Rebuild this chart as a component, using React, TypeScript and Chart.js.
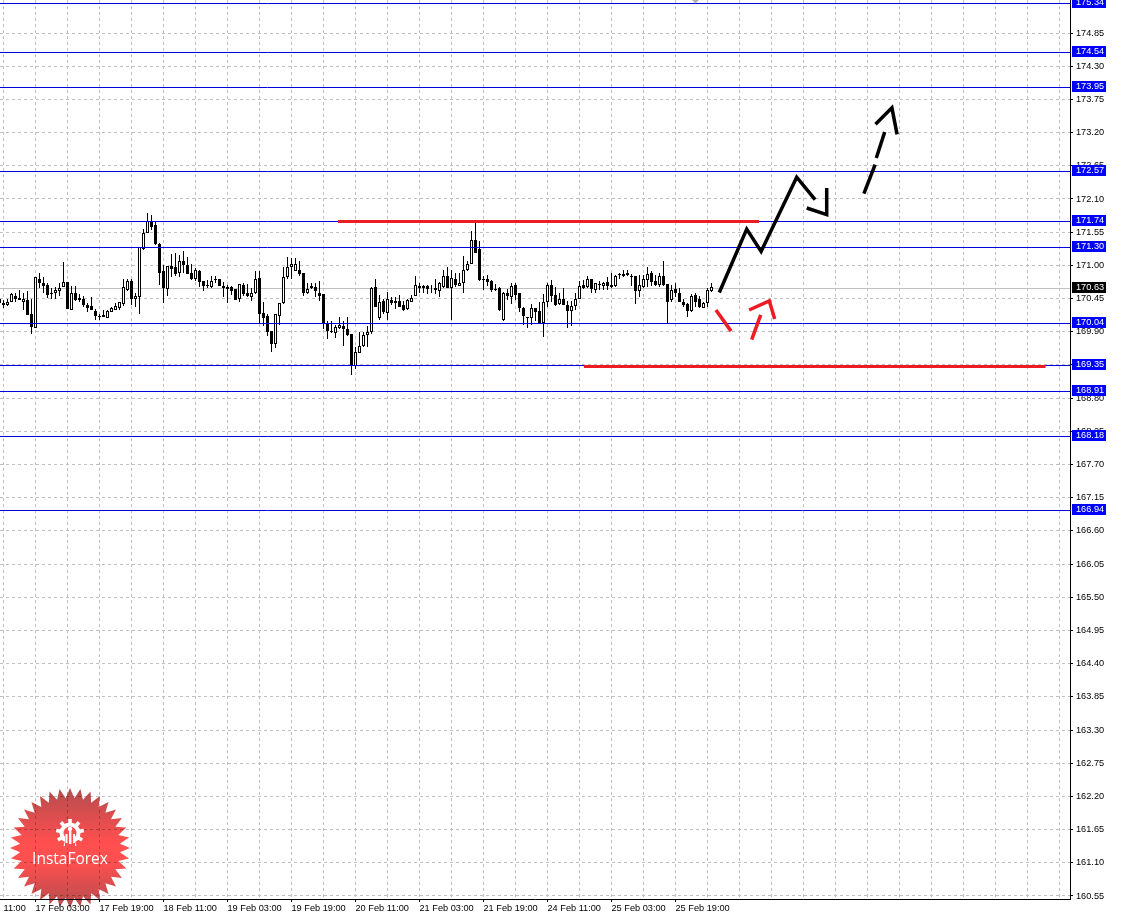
import React, { useEffect, useRef } from "react";
import { Chart, registerables } from "chart.js";

Chart.register(...registerables);

// Hourly candles, oldest first
const opens = [
170.44,170.38,170.35,170.40,170.50,170.46,170.40,170.43,170.19,169.97,
170.78,170.71,170.67,170.54,170.55,170.58,170.64,170.72,170.26,170.54,
170.46,170.44,170.34,170.32,170.25,170.16,170.17,170.13,170.23,170.26,
170.29,170.36,170.59,170.74,170.45,170.48,171.27,171.54,171.74,171.67,
171.35,170.90,170.60,170.99,170.97,170.88,171.07,171.01,170.88,170.77,
170.91,170.74,170.67,170.64,170.77,170.78,170.66,170.60,170.64,170.60,
170.44,170.68,170.54,170.48,170.54,170.79,170.21,170.16,169.91,169.70,
170.16,170.38,170.81,170.98,170.91,170.92,170.87,170.54,170.66,170.64,
170.55,170.52,170.03,169.92,169.88,169.97,169.99,169.94,169.86,169.34,
169.55,169.67,169.85,169.89,170.64,170.13,170.41,170.21,170.43,170.41,
170.41,170.34,170.28,170.40,170.50,170.66,170.65,170.66,170.61,170.62,
170.58,170.64,170.82,170.63,170.78,170.66,170.71,170.92,171.03,171.42,
171.27,170.77,170.77,170.74,170.61,170.62,170.09,170.55,170.48,170.67,
170.54,170.30,170.15,170.13,170.30,170.24,170.04,170.39,170.67,170.51,
170.36,170.45,170.35,170.25,170.33,170.45,170.67,170.64,170.77,170.59,
170.69,170.66,170.72,170.67,170.66,170.84,170.82,170.88,170.83,170.82,
170.58,170.64,170.76,170.87,170.74,170.67,170.83,170.69,170.43,170.61,
170.55,170.40,170.36,170.25,170.51,170.44,170.30,170.38,170.57];

const highs = [
170.45,170.43,170.44,170.55,170.55,170.59,170.54,170.58,170.44,170.80,
170.88,170.80,170.70,170.62,170.64,170.71,171.06,170.72,170.65,170.65,
170.52,170.49,170.38,170.48,170.27,170.20,170.26,170.26,170.31,170.38,
170.40,170.77,170.77,170.77,170.55,171.31,171.60,171.86,171.84,171.74,
171.37,171.01,170.99,171.19,171.20,171.17,171.24,171.14,171.02,170.95,
170.93,170.74,170.76,170.82,170.82,170.78,170.73,170.67,170.66,170.60,
170.69,170.70,170.69,170.62,170.91,170.90,170.40,170.20,169.91,170.20,
170.38,170.97,171.14,171.12,171.13,171.07,170.87,170.70,170.71,170.70,
170.74,170.52,170.08,170.08,170.01,170.14,170.07,170.14,169.86,169.65,
169.90,169.90,169.99,170.64,170.77,170.51,170.45,170.56,170.47,170.48,
170.51,170.41,170.45,170.51,170.82,170.70,170.68,170.68,170.67,170.77,
170.73,170.93,170.97,170.93,170.87,170.88,171.16,171.07,171.57,171.71,
171.41,170.82,170.84,170.76,170.69,170.64,170.56,170.60,170.71,170.71,
170.55,170.31,170.15,170.36,170.30,170.40,170.52,170.70,170.75,170.64,
170.54,170.62,170.41,170.41,170.55,170.74,170.76,170.83,170.78,170.71,
170.74,170.73,170.81,170.88,170.84,170.88,170.92,170.92,170.86,170.82,
170.84,170.84,170.97,170.91,170.84,170.88,171.07,170.69,170.67,170.70,
170.62,170.45,170.38,170.52,170.55,170.49,170.40,170.62,170.71];

const lows = [
170.36,170.30,170.32,170.39,170.40,170.43,170.26,170.18,169.86,169.97,
170.63,170.55,170.46,170.45,170.45,170.49,170.64,170.28,170.26,170.41,
170.39,170.31,170.23,170.26,170.10,170.09,170.14,170.13,170.22,170.26,
170.26,170.32,170.58,170.34,170.31,170.19,171.26,171.54,171.59,171.33,
170.67,170.38,170.49,170.81,170.82,170.81,170.87,170.86,170.76,170.74,
170.64,170.58,170.62,170.63,170.70,170.66,170.48,170.37,170.51,170.43,
170.40,170.49,170.48,170.41,170.52,170.03,169.99,169.83,169.56,169.63,
170.01,170.36,170.78,170.78,170.91,170.82,170.50,170.52,170.60,170.48,
170.41,169.94,169.78,169.88,169.80,169.95,169.66,169.83,169.18,169.29,
169.54,169.65,169.65,169.87,170.31,170.09,170.20,170.09,170.34,170.27,
170.31,170.25,170.26,170.39,170.49,170.54,170.54,170.52,170.54,170.52,
170.48,170.63,170.62,170.09,170.64,170.65,170.55,170.91,171.02,171.20,
170.74,170.59,170.65,170.56,170.58,170.25,170.08,170.43,170.36,170.43,
170.22,170.01,169.97,170.01,170.07,170.04,169.82,170.31,170.40,170.32,
170.34,170.34,169.97,170.00,170.26,170.44,170.61,170.62,170.55,170.55,
170.59,170.59,170.59,170.62,170.64,170.78,170.80,170.82,170.66,170.36,
170.48,170.62,170.64,170.65,170.65,170.64,170.66,170.04,170.40,170.48,
170.39,170.31,170.15,170.23,170.31,170.29,170.29,170.31,170.56];

const closes = [
170.37,170.35,170.40,170.52,170.44,170.43,170.45,170.18,169.98,170.80,
170.71,170.66,170.51,170.52,170.59,170.63,170.72,170.28,170.54,170.43,
170.42,170.34,170.29,170.26,170.16,170.15,170.14,170.24,170.29,170.32,
170.39,170.64,170.74,170.45,170.49,171.31,171.54,171.74,171.64,171.35,
170.88,170.62,170.99,170.94,170.86,171.07,171.01,170.86,170.77,170.93,
170.73,170.66,170.66,170.74,170.76,170.66,170.62,170.64,170.58,170.43,
170.69,170.52,170.50,170.55,170.77,170.19,170.13,169.89,169.70,170.19,
170.38,170.80,170.98,171.03,171.03,170.86,170.55,170.61,170.63,170.57,
170.49,170.03,169.91,169.89,169.98,170.01,169.94,169.84,169.35,169.56,
169.67,169.85,169.90,170.62,170.31,170.40,170.23,170.44,170.38,170.38,
170.31,170.26,170.43,170.46,170.67,170.63,170.62,170.60,170.60,170.59,
170.71,170.82,170.63,170.79,170.67,170.70,170.92,171.02,171.42,171.21,
170.76,170.76,170.73,170.59,170.59,170.26,170.55,170.50,170.65,170.51,
170.30,170.16,170.13,170.30,170.23,170.04,170.39,170.67,170.50,170.34,
170.44,170.35,170.25,170.33,170.45,170.65,170.62,170.78,170.61,170.70,
170.67,170.70,170.66,170.64,170.83,170.85,170.86,170.84,170.80,170.58,
170.67,170.77,170.85,170.73,170.67,170.83,170.67,170.40,170.59,170.55,
170.40,170.34,170.25,170.50,170.40,170.31,170.37,170.59,170.64];

const levels = [175.34, 174.54, 173.95, 172.57, 171.74, 171.30, 170.04, 169.35, 168.91, 168.18, 166.94];
const lastPrice = 170.63;
const priceTicks = [174.85,174.30,173.75,173.20,172.65,172.10,171.55,171.00,170.45,169.90,169.35,168.80,168.25,167.70,167.15,166.60,166.05,165.50,164.95,164.40,163.85,163.30,162.75,162.20,161.65,161.10,160.55];
const firstLabel = "11:00";
const timeLabels = ["17 Feb 03:00","17 Feb 19:00","18 Feb 11:00","19 Feb 03:00","19 Feb 19:00","20 Feb 11:00","21 Feb 03:00","21 Feb 19:00","24 Feb 11:00","25 Feb 03:00","25 Feb 19:00"];
const gridHours = [1,9,17,25,33,41,49,57,65,73,81,89,97,105,113,121,129,137,145,153,161,169,177,185,193,201,209,217,225,233,241,249,257,265];

// Hand-drawn forecast strokes, as [hour index, price]
const blackStrokes = [
  [[179.95,170.55],[186.8,171.60],[190.4,171.23],[199.3,172.46],[203.9,172.09]],
  [[201.8,171.95],[206.8,171.84],[206.8,172.28]],
  [[216.1,172.19],[218.9,172.67]],
  [[219.2,172.78],[221.3,173.21]],
  [[219,173.34],[223.1,173.61],[224.4,173.17]],
];
const redStrokes = [
  [[179.1,170.26],[182.9,169.91]],
  [[188.05,169.77],[190.3,170.18]],
  [[187.4,170.26],[192.45,170.41],[193.8,170.11]],
];
const redLevels = [
  [[84.6,171.74],[189.9,171.74]],
  [[146.1,169.34],[261.5,169.34]],
];

const X_MIN = 0.125;
const X_MAX = 267.625;
const Y_MAX = 175.397;
const Y_MIN = 160.5;
const FONT = "'Liberation Sans', Arial, sans-serif";
const BLUE_LINE = "#0000e0";

const toPoints = (s: number[][]) => s.map(([x, y]) => ({ x, y }));

const crispPlugin = {
  id: "crisp",
  beforeDatasetsDraw(chart: any) {
    chart.data.datasets.forEach((ds: any, i: number) => {
      const meta = chart.getDatasetMeta(i);
      if (ds.type === "bar") {
        meta.data.forEach((el: any) => {
          el.y = Math.round(el.y);
          el.base = Math.round(el.base);
        });
      } else if (ds.crisp) {
        meta.data.forEach((el: any) => {
          el.y = Math.round(el.y) + 0.5;
        });
      }
    });
  },
};

const overlayPlugin = {
  id: "overlay",
  afterDraw(chart: any) {
    const { ctx } = chart;
    const yS = chart.scales.y;
    ctx.save();
    // level tags on the price axis
    ctx.font = `9.2px ${FONT}`;
    ctx.textBaseline = "middle";
    ctx.textAlign = "left";
    const tag = (v: number, bg: string) => {
      const y = Math.round(yS.getPixelForValue(v));
      ctx.fillStyle = bg;
      ctx.fillRect(1072, y - 6, 34, 11);
      ctx.fillStyle = "#ffffff";
      ctx.fillText(v.toFixed(2), 1076, y - 0.5);
    };
    levels.forEach((v) => tag(v, "#0000ff"));
    tag(lastPrice, "#000000");
    // shift marker on top edge
    ctx.fillStyle = "#b0b0b0";
    ctx.beginPath();
    ctx.moveTo(692, 0);
    ctx.lineTo(699, 0);
    ctx.lineTo(695.5, 3.5);
    ctx.closePath();
    ctx.fill();
    ctx.restore();

    // logo
    ctx.save();
    const cx = 70, cy = 848, ro = 60, ri = 50, n = 36;
    const g = ctx.createLinearGradient(0, cy - ro, 0, cy + ro);
    g.addColorStop(0, "#b44c4e");
    g.addColorStop(0.45, "#ff4f4f");
    g.addColorStop(0.62, "#ff4f4f");
    g.addColorStop(1, "#b44c4e");
    ctx.globalCompositeOperation = "multiply";
    ctx.fillStyle = g;
    ctx.beginPath();
    for (let i = 0; i < n * 2; i++) {
      const r = i % 2 === 0 ? ro : ri;
      const a = (Math.PI * i) / n - Math.PI / 2;
      const px = cx + r * Math.cos(a), py = cy + r * Math.sin(a);
      if (i === 0) ctx.moveTo(px, py); else ctx.lineTo(px, py);
    }
    ctx.closePath();
    ctx.fill();
    ctx.globalCompositeOperation = "source-over";
    // gear mark
    const gx = 70, gy = 833;
    ctx.fillStyle = "#ffffff";
    for (let i = 0; i < 9; i++) {
      ctx.save();
      ctx.translate(gx, gy);
      ctx.rotate((i * 2 * Math.PI) / 9);
      ctx.fillRect(-1.8, -14, 3.6, 6);
      ctx.restore();
    }
    ctx.beginPath();
    ctx.arc(gx, gy, 10.5, 0, Math.PI * 2);
    ctx.fill();
    ctx.fillStyle = "#f8504f";
    ctx.beginPath();
    ctx.arc(gx, gy, 6.5, 0, Math.PI * 2);
    ctx.fill();
    ctx.fillRect(gx - 5, gy, 10, 15);
    ctx.fillStyle = "#ffffff";
    ctx.beginPath();
    ctx.arc(gx, gy - 4, 2.2, 0, Math.PI * 2);
    ctx.fill();
    ctx.fillRect(gx - 1, gy - 2, 2.4, 13);
    ctx.fillRect(gx - 4.5, gy + 1, 2, 9);
    ctx.fillRect(gx + 3, gy + 1, 2, 9);
    ctx.font = `15.5px 'Open Sans', sans-serif`;
    ctx.textAlign = "center";
    ctx.textBaseline = "middle";
    ctx.fillText("InstaForex", cx, 859.5);
    ctx.restore();
  },
};

export default function App() {
  const ref = useRef<HTMLCanvasElement | null>(null);

  useEffect(() => {
    const idx = opens.map((_, i) => i);
    const lineDs = (data: any[], color: string, width: number, order: number, crisp = false) => ({
      type: "line",
      data,
      borderColor: color,
      borderWidth: width,
      pointRadius: 0,
      tension: 0,
      order,
      crisp,
      parsing: false,
      borderCapStyle: "butt",
      borderJoinStyle: "miter",
    });
    const chart = new Chart(ref.current as HTMLCanvasElement, {
      type: "bar",
      data: {
        datasets: [
          ...blackStrokes.map((s) => lineDs(toPoints(s), "#000000", 3.5, 1)),
          ...redStrokes.map((s) => lineDs(toPoints(s), "#ed1c24", 3.5, 1)),
          ...redLevels.map((s) => lineDs(toPoints(s), "#ed1c24", 3, 2, true)),
          ...levels.map((v) => lineDs(toPoints([[X_MIN, v], [X_MAX, v]]), BLUE_LINE, 1, 3, true)),
          {
            type: "bar",
            data: idx.map((i) => ({ x: i, y: [opens[i], closes[i]] })),
            barThickness: 3,
            grouped: false,
            inflateAmount: 0,
            borderWidth: 1,
            borderSkipped: false,
            borderColor: "#000000",
            backgroundColor: (c: any) =>
              closes[c.dataIndex] >= opens[c.dataIndex] ? "#ffffff" : "#000000",
            order: 4,
          },
          {
            type: "bar",
            data: idx.map((i) => ({ x: i, y: [lows[i], highs[i]] })),
            barThickness: 1,
            grouped: false,
            inflateAmount: 0,
            borderWidth: 0,
            backgroundColor: "#000000",
            order: 5,
          },
          lineDs(toPoints([[X_MIN, lastPrice], [X_MAX, lastPrice]]), "#c0c0c0", 1, 6, true),
        ] as any,
      },
      options: {
        animation: false,
        responsive: false,
        maintainAspectRatio: false,
        devicePixelRatio: 1,
        layout: { padding: 0 },
        events: [],
        plugins: { legend: { display: false }, title: { display: false }, tooltip: { enabled: false } },
        scales: {
          x: {
            type: "linear",
            offset: false,
            min: X_MIN,
            max: X_MAX,
            afterBuildTicks: (s: any) => { s.ticks = gridHours.map((value) => ({ value })); },
            afterFit: (s: any) => { s.height = 18; s.paddingLeft = 0; s.paddingRight = 0; },
            grid: {
              offset: false,
              color: "#c0c0c0",
              tickLength: 3,
              tickColor: (c: any) => (c.index % 2 === 1 && c.tick.label !== "" ? "#000000" : "rgba(0,0,0,0)"),
            },
            border: { color: "#000000", width: 1, dash: [3, 3] },
            ticks: {
              autoSkip: false,
              maxRotation: 0,
              minRotation: 0,
              align: "start",
              padding: 1,
              color: "#000000",
              font: { family: FONT, size: 9.2 },
              callback: (_v: any, i: number) => {
                if (i === 0) return firstLabel;
                return i % 2 === 1 ? timeLabels[(i - 1) / 2] ?? "" : "";
              },
            },
          },
          y: {
            type: "linear",
            position: "right",
            min: Y_MIN,
            max: Y_MAX,
            afterBuildTicks: (s: any) => { s.ticks = priceTicks.map((value) => ({ value })); },
            afterFit: (s: any) => { s.width = 51; s.paddingTop = 0; s.paddingBottom = 0; },
            grid: { color: "#c0c0c0", tickLength: 3, tickColor: "#000000" },
            border: { color: "#000000", width: 1, dash: [3, 3] },
            ticks: {
              autoSkip: false,
              padding: 3,
              color: "#000000",
              font: { family: FONT, size: 9.2 },
              callback: (v: any) => Number(v).toFixed(2),
            },
          },
        },
      } as any,
      plugins: [crispPlugin, overlayPlugin],
    } as any);
    return () => chart.destroy();
  }, []);

  return (
    <div style={{ position: "absolute", left: 0, top: 0, width: 1121, height: 917, background: "#ffffff" }}>
      <canvas ref={ref} width={1121} height={917} style={{ display: "block" }} />
    </div>
  );
}
